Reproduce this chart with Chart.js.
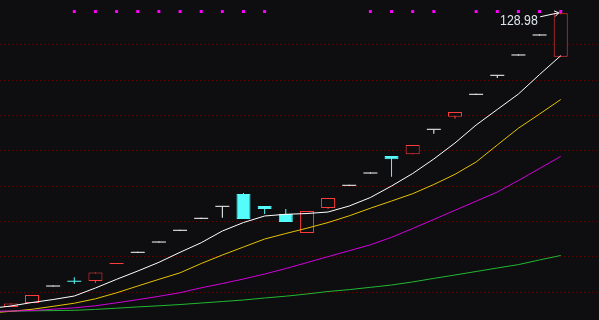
<!DOCTYPE html>
<html lang="zh">
<head>
  <meta charset="UTF-8">
  <title>K线</title>
  <script src="https://cdn.jsdelivr.net/npm/chart.js"></script>
  <style>
    body, html {
      margin: 0;
      padding: 0;
      background: #0e0e11;
      overflow: hidden;
    }
    .chart-box {
      width: 599px;
      height: 320px;
    }
  </style>
</head>
<body>
  <div class="chart-box"><canvas id="kline"></canvas></div>

  <script>
    // daily candles, day 0 .. 26
    const openP  = [45.81, 46.94, 51.61, 53.10, 53.17, 57.98, 61.16, 64.07, 67.39, 70.78, 74.18, 77.81, 74.41, 72.14, 66.76, 73.84, 80.13, 83.61, 88.57, 89.05, 95.99, 99.69, 105.90, 111.28, 117.03, 122.69, 116.68];
    const highP  = [46.80, 49.20, 51.61, 54.22, 55.58, 58.10, 61.16, 64.07, 67.39, 70.78, 74.18, 78.09, 74.41, 73.56, 72.99, 76.67, 80.13, 83.61, 88.57, 91.68, 95.99, 101.02, 105.90, 111.28, 117.03, 122.69, 128.98];
    const lowP   = [45.81, 46.94, 51.61, 52.32, 52.60, 57.98, 61.16, 64.07, 67.39, 70.78, 71.09, 70.73, 72.14, 69.88, 66.76, 73.56, 80.13, 83.61, 82.70, 89.05, 94.88, 99.13, 105.90, 110.65, 117.03, 122.69, 116.68];
    const closeP = [46.80, 49.20, 51.61, 52.96, 55.58, 58.10, 61.16, 64.07, 67.39, 70.78, 74.18, 70.73, 73.56, 69.88, 72.99, 76.67, 80.13, 83.61, 87.63, 91.68, 95.99, 101.02, 105.90, 111.28, 117.03, 122.69, 128.98];

    // moving averages, day -1 .. 26
    const maFirstDay = -1;
    const ma5  = [45.38, 46.09, 47.08, 47.93, 48.92, 51.19, 53.65, 56.00, 58.46, 61.30, 64.01, 67.33, 69.73, 71.58, 72.06, 72.28, 72.71, 74.41, 76.81, 80.07, 83.61, 87.72, 92.25, 97.34, 101.73, 106.12, 111.64, 116.97];
    const ma10 = [44.11, 44.59, 45.16, 46.01, 46.88, 48.13, 49.83, 51.75, 53.65, 55.49, 58.12, 60.53, 62.80, 65.06, 66.62, 68.12, 69.73, 71.63, 73.78, 75.82, 77.89, 80.50, 83.38, 86.87, 91.68, 96.44, 100.46, 104.56];
    const ma20 = [44.53, 44.67, 44.82, 45.18, 45.58, 46.15, 47.00, 47.90, 48.84, 49.86, 51.24, 52.46, 53.74, 55.15, 56.71, 58.38, 60.08, 61.75, 63.42, 65.54, 68.04, 70.61, 73.19, 75.77, 78.37, 81.63, 85.05, 88.45];
    const ma60 = [44.53, 44.62, 44.73, 44.79, 44.87, 45.13, 45.47, 45.84, 46.15, 46.51, 46.94, 47.36, 47.79, 48.36, 48.87, 49.49, 50.20, 50.73, 51.38, 52.04, 52.91, 53.91, 54.87, 55.86, 56.85, 57.81, 59.14, 60.39];

    // signal marks along the top
    const markFlags = [0, 0, 0, 1, 1, 1, 1, 1, 1, 1, 1, 1, 1, 0, 0, 0, 0, 1, 1, 1, 1, 0, 1, 1, 1, 1, 1];

    // price grid levels
    const gridLevels = [50, 60, 70, 80, 90, 100, 110, 120];

    const UP = '#ff3c3c', DOWN = '#55fcfc', FLAT = '#ffffff', BG = '#0e0e11';
    const markLevel = 129.48;

    const candleColor = openP.map((o, i) => closeP[i] > o ? UP : (closeP[i] < o ? DOWN : FLAT));
    // bodies about one pixel tall are drawn as a solid dash
    const thin = openP.map((o, i) => Math.abs(closeP[i] - o) < 0.3);
    const bodyFill = candleColor.map((c, i) => (c === UP && !thin[i]) ? BG : c);
    const bodyBorder = thin.map(t => t ? 0 : 1);

    const bodies = openP.map((o, i) => ({ x: i, y: [o, closeP[i]] }));
    const wicks = lowP.map((l, i) => ({ x: i, y: [l, highP[i]] }));
    const maPoints = arr => arr.map((v, k) => ({ x: maFirstDay + k, y: v }));
    const marks = [];
    markFlags.forEach((f, i) => { if (f) marks.push({ x: i, y: markLevel }); });

    // label + arrow at the last high
    const lastLabel = {
      id: 'lastLabel',
      afterDatasetsDraw(chart) {
        const { ctx, scales: { x, y } } = chart;
        const i = highP.length - 1;
        const px = x.getPixelForValue(i);
        const py = y.getPixelForValue(highP[i]);
        ctx.save();
        ctx.fillStyle = '#dfe5ee';
        ctx.font = '15px "Liberation Sans", Arial, sans-serif';
        ctx.textAlign = 'right';
        // narrow the face a bit, the original uses a condensed font
        ctx.translate(px - 23, py + 11.5);
        ctx.scale(0.82, 1);
        ctx.fillText(highP[i].toFixed(2), 0, 0);
        ctx.restore();

        ctx.save();
        const x0 = px - 20.5, y0 = py + 3.5, x1 = px - 2, y1 = py - 0.5;
        const a = Math.atan2(y1 - y0, x1 - x0);
        ctx.strokeStyle = '#ffffff';
        ctx.lineWidth = 1;
        ctx.beginPath();
        ctx.moveTo(x0, y0);
        ctx.lineTo(x1, y1);
        ctx.moveTo(x1, y1);
        ctx.lineTo(x1 - 5 * Math.cos(a - 0.6), y1 - 5 * Math.sin(a - 0.6));
        ctx.moveTo(x1, y1);
        ctx.lineTo(x1 - 5 * Math.cos(a + 0.6), y1 - 5 * Math.sin(a + 0.6));
        ctx.stroke();
        ctx.restore();
      }
    };

    const lineSet = (data, color, order) => ({
      type: 'line',
      data: maPoints(data),
      borderColor: color,
      borderWidth: 1,
      pointRadius: 0,
      pointHoverRadius: 0,
      tension: 0,
      order: order
    });

    new Chart(document.getElementById('kline'), {
      type: 'bar',
      data: {
        datasets: [
          {
            type: 'line',
            data: marks,
            showLine: false,
            pointStyle: 'rect',
            pointRadius: 2.1,
            pointHoverRadius: 2.1,
            pointBorderWidth: 0,
            pointBackgroundColor: '#ff00ff',
            order: 0
          },
          lineSet(ma5, '#ffffff', 1),
          lineSet(ma20, '#d200dc', 2),
          lineSet(ma10, '#e6c300', 3),
          lineSet(ma60, '#22b832', 4),
          {
            data: bodies,
            backgroundColor: bodyFill,
            borderColor: candleColor,
            borderWidth: bodyBorder,
            borderSkipped: false,
            barThickness: 14,
            minBarLength: 1,
            inflateAmount: 0,
            grouped: false,
            order: 5
          },
          {
            data: wicks,
            backgroundColor: candleColor,
            borderWidth: 0,
            barThickness: 1,
            minBarLength: 1,
            inflateAmount: 0,
            grouped: false,
            order: 6
          }
        ]
      },
      options: {
        responsive: true,
        maintainAspectRatio: false,
        devicePixelRatio: 1,
        animation: false,
        events: [],
        layout: { padding: 0, autoPadding: false },
        plugins: {
          legend: { display: false },
          tooltip: { enabled: false }
        },
        scales: {
          x: {
            type: 'linear',
            min: -0.513,
            max: 27.81,
            offset: false,
            display: false
          },
          y: {
            min: 42.13,
            max: 132.74,
            afterBuildTicks: s => { s.ticks = gridLevels.map(v => ({ value: v })); },
            afterFit: s => { s.width = 0; },
            ticks: { display: false },
            grid: { color: '#600000', lineWidth: 1, drawTicks: false },
            border: { display: false, dash: [1, 3] }
          }
        }
      },
      plugins: [lastLabel]
    });
  </script>
</body>
</html>
